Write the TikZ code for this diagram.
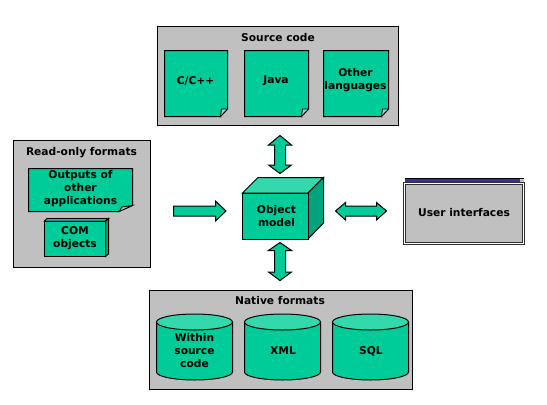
\documentclass[tikz,border=0pt]{standalone}
\usepackage{fontspec}
\setmainfont{DejaVu Sans}
\definecolor{teal1}{HTML}{00CC99}
\definecolor{tealtop}{HTML}{33D9AD}
\definecolor{tealside}{HTML}{00A37A}
\definecolor{panelgrey}{HTML}{C0C0C0}
\definecolor{titleblue}{HTML}{333399}
\definecolor{winedge}{HTML}{303030}
\begin{document}
\begin{tikzpicture}[x=0.75pt,y=-0.75pt,line width=0.75pt,line join=miter,
  panel/.style={draw=black,fill=panelgrey},
  shapefill/.style={draw=black,fill=teal1},
  topfill/.style={draw=black,fill=tealtop},
  sidefill/.style={draw=black,fill=tealside},
  foldfill/.style={draw=black,fill=panelgrey,line width=0.6pt},
  blockarrow/.style={draw=black,fill=teal1},
  lab/.style={font=\bfseries\fontsize{8pt}{9.75pt}\selectfont,align=center,inner sep=0pt,text=black}]
\useasboundingbox (0,0) rectangle (547,404);
% Source code panel
\draw[panel] (157.5,26.5) rectangle (398,125);
\node[lab] (srctitle) at (278,38) {Source code};
\foreach \l/\r/\n in {164.5/227.5/a,244.5/308.5/b,323.5/388.5/c}{
  \draw[shapefill] (\l,50.5) -- (\r,50.5) -- (\r,109) -- (\r-7,116.5) -- (\l,116.5) -- cycle;
  \draw[foldfill] (\r,109) -- (\r-6,109) -- (\r-7,116.5) -- cycle;
}
\node[lab] (cpp) at (195.5,81) {C/C++};
\node[lab] (java) at (276,81) {Java};
\node[lab] (other) at (355.5,80.5) {Other\\languages};
% Read-only panel
\draw[panel] (13.5,140.5) rectangle (150.5,267);
\node[lab] (rotitle) at (81.5,153) {Read-only formats};
\draw[shapefill] (28.5,168.5) -- (132.5,168.5) -- (132.5,205.5) -- (119,211.5) -- (28.5,211.5) -- cycle;
\draw[foldfill] (132.5,205.5) -- (122,207) -- (119,211.5) -- cycle;
\node[lab] (outputs) at (80.5,188.5) {Outputs of\\other\\applications};
\draw[topfill] (44.5,221) -- (47,218.5) -- (108.5,218.5) -- (105.5,221) -- cycle;
\draw[sidefill] (105.5,221) -- (108.5,218.5) -- (108.5,254) -- (105.5,256.5) -- cycle;
\draw[shapefill] (44.5,221) rectangle (105.5,256.5);
\node[lab] (com) at (75,238.5) {COM\\objects};
% Object model
\draw[topfill] (242.5,193) -- (258,177.5) -- (323.5,177.5) -- (308,193) -- cycle;
\draw[sidefill] (308,193) -- (323.5,177.5) -- (323.5,223) -- (308,239) -- cycle;
\draw[shapefill] (242.5,193) rectangle (308,239);
\node[lab] (model) at (276.5,216) {Object\\model};
% Arrows
\draw[blockarrow] (173.5,206) -- (215.5,206) -- (215.5,201) -- (226,211) -- (215.5,221) -- (215.5,216) -- (173.5,216) -- cycle;
\draw[blockarrow] (280,135.5) -- (291.5,145) -- (285.5,145) -- (285.5,165) -- (291.5,165) -- (280,173.5) -- (268.5,165) -- (274.5,165) -- (274.5,145) -- (268.5,145) -- cycle;
\draw[blockarrow] (280,242.5) -- (291.5,250.5) -- (285.5,250.5) -- (285.5,272) -- (291.5,272) -- (280,280.5) -- (268.5,272) -- (274.5,272) -- (274.5,250.5) -- (268.5,250.5) -- cycle;
\draw[blockarrow] (335.5,211) -- (345.5,202.5) -- (345.5,206) -- (376.5,206) -- (376.5,202.5) -- (386.5,211) -- (376.5,220) -- (376.5,216) -- (345.5,216) -- (345.5,220) -- cycle;
% User interfaces window
\fill[titleblue] (404.5,178.5) rectangle (520,182.5);
\draw[black] (404.5,178.5) -- (524,178.5);
\fill[panelgrey] (520,179) rectangle (524,182.5);
\draw[draw=winedge,fill=white,line width=0.75pt] (403.5,182.5) rectangle (524.5,244);
\draw[draw=winedge,fill=panelgrey,line width=0.75pt] (405.5,184.5) rectangle (522.5,242);
\node[lab] (ui) at (464,213) {User interfaces};
% Native formats panel
\draw[panel] (149.5,290.5) rectangle (412,389.5);
\node[lab] (nattitle) at (280,301) {Native formats};
\foreach \l in {156.5,244.5,332.5}{
  \draw[shapefill] (\l,322) -- (\l,372) arc[start angle=180,end angle=0,x radius=38,y radius=8] -- (\l+76,322);
  \draw[topfill] (\l+38,322) ellipse[x radius=38,y radius=8];
}
\node[lab] (within) at (194.5,351) {Within\\source\\code};
\node[lab] (xml) at (283,351) {XML};
\node[lab] (sql) at (371,351) {SQL};
\end{tikzpicture}
\end{document}
